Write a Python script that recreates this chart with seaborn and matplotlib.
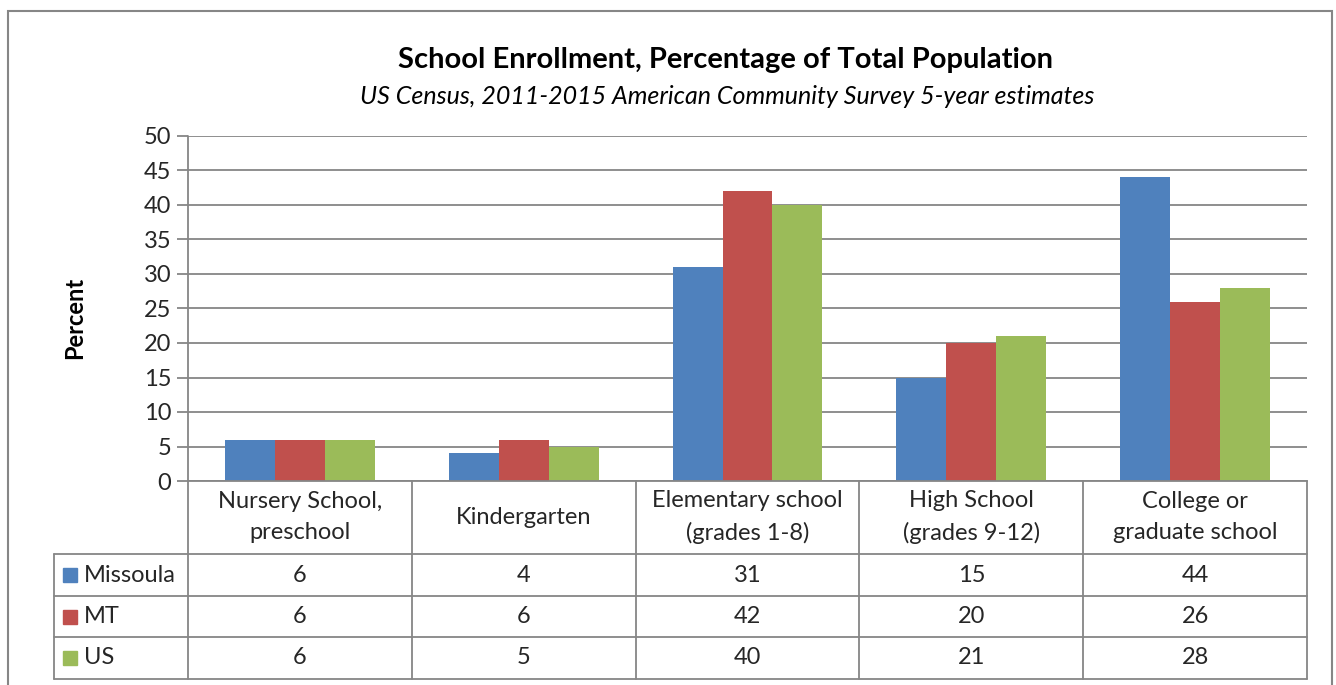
import pandas as pd
import matplotlib.pyplot as plt
import matplotlib.transforms as mtransforms
from matplotlib.lines import Line2D
from matplotlib.patches import Rectangle
import seaborn as sns

# Data
categories = ["Nursery School,\npreschool", "Kindergarten", "Elementary school\n(grades 1-8)",
              "High School\n(grades 9-12)", "College or\ngraduate school"]
series = ["Missoula", "MT", "US"]
missoula = [6, 4, 31, 15, 44]
mt = [6, 6, 42, 20, 26]
us = [6, 5, 40, 21, 28]
colors = ["#4F81BD", "#C0504D", "#9BBB59"]

df = pd.DataFrame({
    "category": categories * 3,
    "series": [s for s in series for _ in categories],
    "value": missoula + mt + us,
})

sns.set_style("white")
plt.rcParams["font.family"] = ["Lato", "DejaVu Sans"]
grid_color = "#868686"
fs = 17

W, H = 1336, 685
fig = plt.figure(figsize=(W / 100, H / 100), dpi=100)


def fx(px):
    return px / W


def fy(py):
    return 1 - py / H


ax = fig.add_axes([fx(188), fy(481), fx(1307 - 188), (481 - 136) / H])

sns.barplot(data=df, x="category", y="value", hue="series", order=categories,
            hue_order=series, palette=colors, saturation=1, width=0.67,
            linewidth=0, legend=False, ax=ax)

ax.set_ylim(0, 50)
ax.set_xlim(-0.5, len(categories) - 0.5)
ax.set_yticks(range(0, 51, 5))
ax.yaxis.grid(True, color=grid_color, linewidth=1.3)
ax.set_axisbelow(True)
for side in ["top", "right", "left"]:
    ax.spines[side].set_visible(False)
ax.spines["bottom"].set_color(grid_color)
ax.spines["bottom"].set_linewidth(1.3)
ax.tick_params(axis="y", length=8, width=1.3, color=grid_color, labelsize=fs, pad=4,
               left=True)
# category labels centred vertically in the band between the axis and the table
ax.tick_params(axis="x", length=0, labelsize=fs, pad=26)
plt.setp(ax.get_xticklabels(), linespacing=1.6, va="center")
ax.set_xlabel("")
ax.set_ylabel("")

# titles
fig.text(fx(726), fy(60), "School Enrollment, Percentage of Total Population",
         ha="center", va="center", fontsize=21, fontweight="bold", color="black")
fig.text(fx(727), fy(96), "US Census, 2011-2015 American Community Survey 5-year estimates",
         ha="center", va="center", fontsize=18, style="italic", color="black")
fig.text(fx(75), fy(318), "Percent", rotation=90, ha="center", va="center",
         fontsize=fs, fontweight="bold", color="black")

# data table
tr = mtransforms.blended_transform_factory(ax.transData, fig.transFigure)
row_lines = [554, 596, 637, 679]
n = len(categories)

# left axis line runs down through the table, category boundaries below the axis
fig.add_artist(Line2D([fx(188), fx(188)], [fy(136), fy(679)], color=grid_color, lw=1.3))
for i in range(1, n + 1):
    ax.add_line(Line2D([i - 0.5, i - 0.5], [fy(481), fy(679)], transform=tr,
                       color=grid_color, lw=1.3, clip_on=False))
for y in row_lines:
    fig.add_artist(Line2D([fx(54), fx(1307)], [fy(y), fy(y)], color=grid_color, lw=1.3))
fig.add_artist(Line2D([fx(54), fx(54)], [fy(554), fy(679)], color=grid_color, lw=1.3))

for r, (name, vals, col) in enumerate(zip(series, [missoula, mt, us], colors)):
    yc = (row_lines[r] + row_lines[r + 1]) / 2
    fig.add_artist(Rectangle((fx(63), fy(yc + 7)), fx(14), 14 / H, color=col))
    fig.text(fx(84), fy(yc), name, ha="left", va="center", fontsize=fs)
    for i, v in enumerate(vals):
        ax.text(i, fy(yc), str(v), transform=tr, ha="center", va="center", fontsize=fs)

# chart border
fig.add_artist(Rectangle((fx(8), fy(700)), fx(1332 - 8), (700 - 11) / H, fill=False,
                         edgecolor=grid_color, lw=1.5))

plt.savefig("out.png", dpi=100)
